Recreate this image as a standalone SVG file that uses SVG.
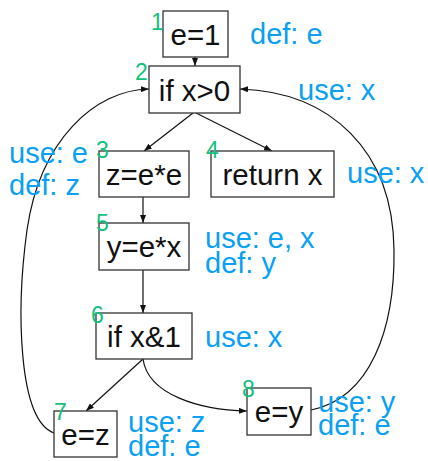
<svg xmlns="http://www.w3.org/2000/svg" width="428" height="461" viewBox="0 0 428 461">
<style>
.box{fill:#fff;stroke:#333;stroke-width:1.3}
.t{font-family:"Liberation Sans",Arial,sans-serif;font-size:29.5px;fill:#111;text-anchor:middle}
.b{font-family:"Liberation Sans",Arial,sans-serif;font-size:29px;fill:#0aa0f5}
.n{font-family:"Liberation Sans",Arial,sans-serif;font-size:23px;fill:#12c07e}
.e{fill:none;stroke:#111;stroke-width:1.2}
</style>
<defs>
<marker id="a" viewBox="0 0 8 6" refX="8" refY="3" markerWidth="8" markerHeight="6" markerUnits="userSpaceOnUse" orient="auto">
<path d="M0,0 L8,3 L0,6 z" fill="#111"/>
</marker>
</defs>
<g id="connectors">
<path class="e" d="M195,57 L195,66" marker-end="url(#a)"/>
<path class="e" d="M193,113 L144,151" marker-end="url(#a)"/>
<path class="e" d="M196,113 L272,151" marker-end="url(#a)"/>
<path class="e" d="M143,197 L143,223" marker-end="url(#a)"/>
<path class="e" d="M143,270 L143,313" marker-end="url(#a)"/>
<path class="e" d="M143,359 L86,411" marker-end="url(#a)"/>
<path class="e" d="M143,359 C148,395 200,410 247,411" marker-end="url(#a)"/>
<path class="e" d="M311,410 C370,398 395,330 394,250 C393,150 330,92 240,89" marker-end="url(#a)"/>
<path class="e" d="M54,433 C18,420 16,310 27,230 C40,140 95,90 149,89" marker-end="url(#a)"/>
</g>
<g id="n1"><rect class="box" x="163" y="11" width="65" height="46"/><text class="t" x="195.5" y="45">e=1</text><text class="n" x="151" y="30">1</text><text class="b" x="250" y="44">def: e</text></g>
<g id="n2"><rect class="box" x="149" y="66" width="91" height="47"/><text class="t" x="194.5" y="101">if x&gt;0</text><text class="n" x="135" y="80">2</text><text class="b" x="298" y="100">use: x</text></g>
<g id="n3"><rect class="box" x="99" y="151" width="90" height="46"/><text class="t" x="144" y="185">z=e*e</text><text class="n" x="96" y="158">3</text><text class="b" x="9" y="163">use: e</text><text class="b" x="9" y="195">def: z</text></g>
<g id="n4"><rect class="box" x="211" y="151" width="123" height="46"/><text class="t" x="272.5" y="185">return x</text><text class="n" x="206" y="158">4</text><text class="b" x="347" y="183">use: x</text></g>
<g id="n5"><rect class="box" x="99" y="223" width="90" height="47"/><text class="t" x="144" y="257">y=e*x</text><text class="n" x="96" y="231">5</text><text class="b" x="205" y="248">use: e, x</text><text class="b" x="205" y="273">def: y</text></g>
<g id="n6"><rect class="box" x="96" y="313" width="96" height="46"/><text class="t" x="144" y="347">if x&amp;1</text><text class="n" x="91" y="323">6</text><text class="b" x="205" y="347">use: x</text></g>
<g id="n7"><rect class="box" x="54" y="411" width="63" height="46"/><text class="t" x="85.5" y="445">e=z</text><text class="n" x="54" y="420">7</text><text class="b" x="128" y="432">use: z</text><text class="b" x="128" y="456">def: e</text></g>
<g id="n8"><rect class="box" x="247" y="388" width="64" height="47"/><text class="t" x="279" y="422">e=y</text><text class="n" x="242" y="397">8</text><text class="b" x="318" y="412">use: y</text><text class="b" x="318" y="435">def: e</text></g>
</svg>
